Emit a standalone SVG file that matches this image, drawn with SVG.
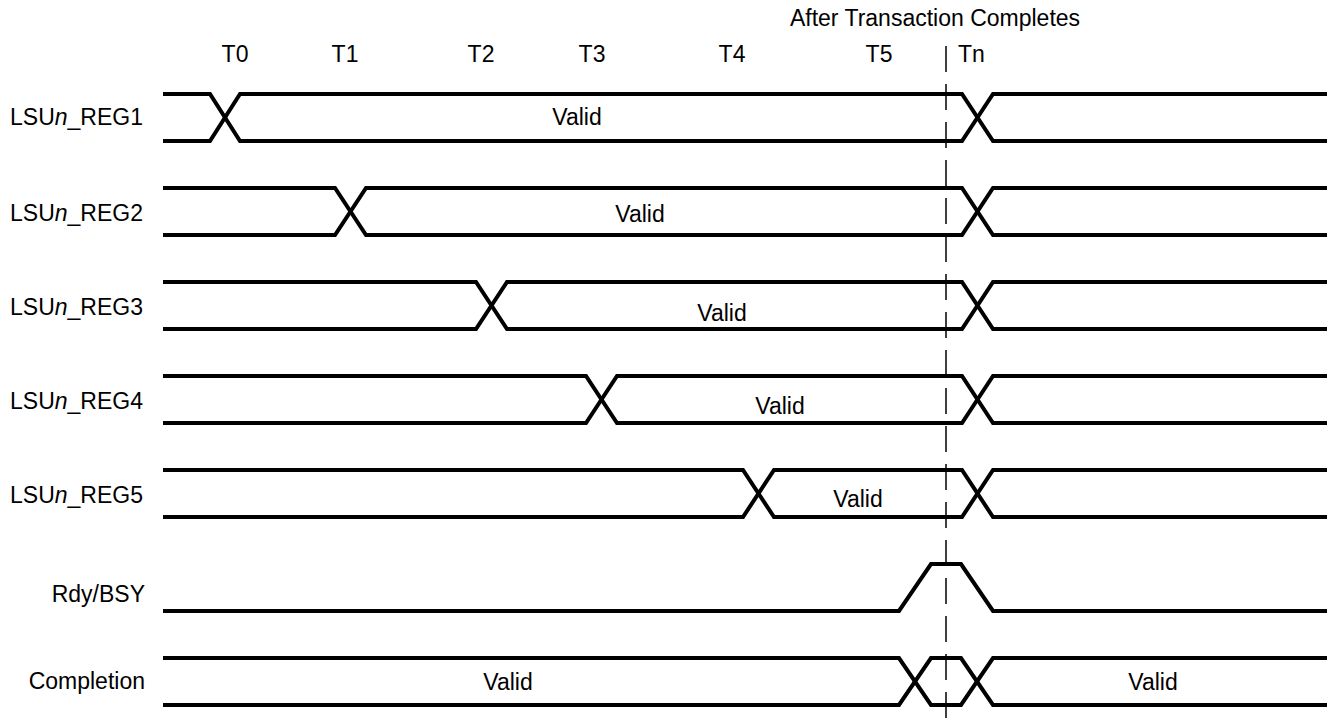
<svg xmlns="http://www.w3.org/2000/svg" width="1336" height="727" viewBox="0 0 1336 727">
<style>
text{font-family:"Liberation Sans",Arial,sans-serif;font-size:23px;fill:#000}
.lbl{text-anchor:end}
.mid{text-anchor:middle}
.w{fill:none;stroke:#000;stroke-width:4;stroke-linejoin:miter}
.dash{fill:none;stroke:#000;stroke-width:1.5;stroke-dasharray:26 12}
</style>
<rect width="1336" height="727" fill="#fff"/>
<g id="header">
<text x="935" y="26" class="mid">After Transaction Completes</text>
<text x="235" y="62" class="mid">T0</text>
<text x="345" y="62" class="mid">T1</text>
<text x="481" y="62" class="mid">T2</text>
<text x="592" y="62" class="mid">T3</text>
<text x="732" y="62" class="mid">T4</text>
<text x="879" y="62" class="mid">T5</text>
<text x="958" y="62">Tn</text>
</g>
<g id="marker">
<line class="dash" x1="946" y1="46" x2="946" y2="727"/>
</g>
<g id="connectors">
<g id="reg1">
<path class="w" d="M163,94 H210 L240,141 H962 L993,94 H1327"/>
<path class="w" d="M163,141 H210 L240,94 H962 L993,141 H1327"/>
</g>
<g id="reg2">
<path class="w" d="M163,188 H335 L366,235 H962 L993,188 H1327"/>
<path class="w" d="M163,235 H335 L366,188 H962 L993,235 H1327"/>
</g>
<g id="reg3">
<path class="w" d="M163,282 H476 L507,329 H962 L993,282 H1327"/>
<path class="w" d="M163,329 H476 L507,282 H962 L993,329 H1327"/>
</g>
<g id="reg4">
<path class="w" d="M163,376 H586 L617,423 H962 L993,376 H1327"/>
<path class="w" d="M163,423 H586 L617,376 H962 L993,423 H1327"/>
</g>
<g id="reg5">
<path class="w" d="M163,470 H743 L774,517 H962 L993,470 H1327"/>
<path class="w" d="M163,517 H743 L774,470 H962 L993,517 H1327"/>
</g>
<g id="rdy">
<path class="w" d="M163,611 H899 L931,564 H961 L993,611 H1327"/>
</g>
<g id="completion">
<path class="w" d="M163,658 H899 L931,705 H961 L993,658 H1327"/>
<path class="w" d="M163,705 H899 L931,658 H961 L993,705 H1327"/>
</g>
</g>
<g id="labels">
<text x="143" y="125" class="lbl">LSU<tspan font-style="italic">n</tspan>_REG1</text>
<text x="143" y="221" class="lbl">LSU<tspan font-style="italic">n</tspan>_REG2</text>
<text x="143" y="315" class="lbl">LSU<tspan font-style="italic">n</tspan>_REG3</text>
<text x="143" y="409" class="lbl">LSU<tspan font-style="italic">n</tspan>_REG4</text>
<text x="143" y="503" class="lbl">LSU<tspan font-style="italic">n</tspan>_REG5</text>
<text x="145" y="602" class="lbl">Rdy/BSY</text>
<text x="145" y="689" class="lbl">Completion</text>
</g>
<g id="values">
<text x="577" y="125" class="mid">Valid</text>
<text x="640" y="222" class="mid">Valid</text>
<text x="722" y="321" class="mid">Valid</text>
<text x="780" y="414" class="mid">Valid</text>
<text x="858" y="507" class="mid">Valid</text>
<text x="508" y="690" class="mid">Valid</text>
<text x="1153" y="690" class="mid">Valid</text>
</g>
</svg>
